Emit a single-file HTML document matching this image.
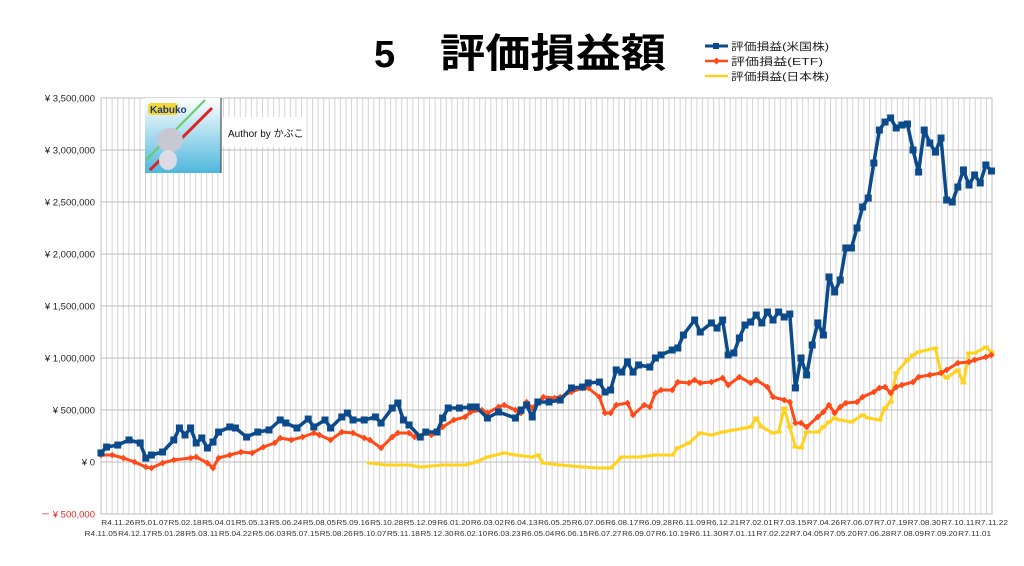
<!DOCTYPE html>
<html><head><meta charset="utf-8">
<style>
body{margin:0;background:#fff;width:1024px;height:566px;overflow:hidden;font-family:"Liberation Sans","Noto Sans CJK JP",sans-serif;}
#wrap{position:relative;width:1024px;height:566px;}
svg{position:absolute;left:0;top:0;}
</style></head>
<body><div id="wrap">
<svg id="chart" width="1024" height="566">
<g>
<text x="374" y="67" font-size="38" font-weight="bold" fill="#000" font-family="Liberation Sans, sans-serif">5</text>
<text x="440" y="67" font-size="40" font-weight="bold" fill="#000" textLength="226" lengthAdjust="spacingAndGlyphs" font-family="Liberation Sans, Noto Sans CJK JP, sans-serif">評価損益額</text>
</g>
<g id="legend">
<g><line x1="705" y1="46" x2="728" y2="46" stroke="#0b4a8b" stroke-width="3"/><rect x="713" y="43" width="6" height="6" fill="#0b4a8b"/><text x="731" y="50" font-size="10.5" fill="#222" textLength="98" lengthAdjust="spacingAndGlyphs">評価損益(米国株)</text></g>
<g><line x1="705" y1="61" x2="728" y2="61" stroke="#ff4a1a" stroke-width="2.5"/><path d="M716.5 57.5L720 61L716.5 64.5L713 61Z" fill="#ff4a1a"/><text x="731" y="65" font-size="10.5" fill="#222" textLength="92" lengthAdjust="spacingAndGlyphs">評価損益(ETF)</text></g>
<g><line x1="705" y1="76" x2="728" y2="76" stroke="#ffd21f" stroke-width="2.5"/><text x="731" y="80" font-size="10.5" fill="#222" textLength="98" lengthAdjust="spacingAndGlyphs">評価損益(日本株)</text></g>
</g>
<g id="grid"></g>
<g id="yaxis"></g>
<g id="xaxis"></g>
<g id="series"></g>
<g>
<defs><linearGradient id="lg" x1="0" y1="0" x2="0" y2="1"><stop offset="0" stop-color="#ffffff"/><stop offset="1" stop-color="#4fb7dd"/></linearGradient></defs>
<rect x="145" y="98" width="76" height="75" fill="url(#lg)"/>
<rect x="148" y="103" width="30" height="12" rx="3" fill="#f7d63a"/>
<text x="150" y="113" font-size="10" font-weight="bold" fill="#1a3d7a">Kabuko</text>
<path d="M150 170L212 108" stroke="#d22" stroke-width="3"/>
<path d="M146 160L205 100" stroke="#6c6" stroke-width="2"/>
<ellipse cx="170" cy="140" rx="13" ry="12" fill="#c8c8d4"/>
<ellipse cx="168" cy="160" rx="9" ry="10" fill="#dcdce6"/>
<line x1="221" y1="98" x2="221" y2="173" stroke="#333" stroke-width="1"/>
</g>
<g>
<rect x="222" y="117" width="80" height="30" fill="#fff"/>
<text x="228" y="137" font-size="10" fill="#111">Author by かぶこ</text>
</g>
</svg>
</div>
<script>
// ---- data ----
const numWeeks = 160;
const yTicks = [-500000,0,500000,1000000,1500000,2000000,2500000,3000000,3500000];
const xLabelsUpper = ["R4.11.26","R5.01.07","R5.02.18","R5.04.01","R5.05.13","R5.06.24","R5.08.05","R5.09.16","R5.10.28","R5.12.09","R6.01.20","R6.03.02","R6.04.13","R6.05.25","R6.07.06","R6.08.17","R6.09.28","R6.11.09","R6.12.21","R7.02.01","R7.03.15","R7.04.26","R7.06.07","R7.07.19","R7.08.30","R7.10.11","R7.11.22"];
const xLabelsLower = ["R4.11.05","R4.12.17","R5.01.28","R5.03.11","R5.04.22","R5.06.03","R5.07.15","R5.08.26","R5.10.07","R5.11.18","R5.12.30","R6.02.10","R6.03.23","R6.05.04","R6.06.15","R6.07.27","R6.09.07","R6.10.19","R6.11.30","R7.01.11","R7.02.22","R7.04.05","R7.05.20","R7.06.28","R7.08.09","R7.09.20","R7.11.01"];
// values in thousand yen, indexed by week number
const usWeeks = [0,1,3,5,7,8,9,11,13,14,15,16,17,18,19,20,21,23,24,26,28,30,32,33,35,37,38,40,41,43,44,45,47,49,50,52,53,54,55,57,58,60,61,62,64,66,67,69,71,74,75,76,77,78,80,82,84,86,87,89,90,91,92,93,94,95,96,98,99,100,102,103,104,106,107,109,110,111,112,113,114,115,116,117,118,119,120,121,122,123,124,125,126,127,128,129,130,131,132,133,134,135,136,137,138,139,140,141,142,143,144,145,146,147,148,149,150,151,152,153,154,155,156,157,158,159];
const usValues = [87,144,163,212,183,38,67,96,212,327,260,327,183,231,135,192,288,337,327,240,288,308,404,375,327,413,337,404,327,433,471,404,404,433,375,519,567,404,356,240,288,288,423,519,519,529,529,423,481,423,500,548,433,577,577,596,712,721,760,769,673,692,885,865,962,865,933,913,1000,1029,1077,1096,1221,1365,1250,1337,1288,1365,1029,1048,1192,1317,1346,1413,1337,1442,1365,1442,1394,1423,712,1000,837,1125,1337,1221,1779,1635,1750,2058,2058,2250,2452,2538,2875,3192,3269,3308,3212,3240,3250,3000,2788,3192,3067,2980,3115,2519,2500,2644,2808,2663,2760,2683,2856,2798];
const etfWeeks = [0,2,4,6,8,9,11,13,16,17,19,20,21,23,25,27,29,31,32,34,36,38,39,41,43,45,47,48,50,52,53,55,56,58,59,61,63,65,66,68,69,71,72,74,75,76,77,79,81,82,84,86,87,89,90,91,92,94,95,97,98,99,100,102,103,105,106,107,109,111,112,114,116,117,119,120,122,123,124,125,126,128,129,130,131,132,133,135,136,138,139,140,141,142,143,145,146,148,150,151,153,155,156,158,159];
const etfValues = [67,67,38,0,-48,-58,-10,19,38,48,-10,-58,38,67,96,87,144,183,231,212,240,279,260,212,288,279,231,212,135,240,279,279,240,279,260,337,404,433,481,500,471,529,548,500,471,577,519,625,615,625,673,712,712,625,471,471,548,567,452,548,529,663,692,692,769,760,788,760,769,808,740,817,760,788,721,625,596,577,375,375,337,433,481,548,471,529,567,577,625,673,712,721,663,721,740,769,817,837,856,885,952,962,981,1010,1029];
const jpWeeks = [48,51,55,57,61,65,67,69,72,74,77,78,79,82,86,89,91,93,96,99,102,103,105,107,109,111,113,115,116,117,118,120,121,122,123,124,125,126,128,129,130,131,132,134,136,137,139,140,141,142,144,145,146,149,150,151,153,154,155,156,158,159];
const jpValues = [-10,-29,-29,-48,-29,-29,0,48,87,67,48,67,-10,-29,-48,-58,-58,48,48,67,67,135,183,279,260,288,308,327,337,423,337,279,288,519,337,144,135,288,288,337,385,423,404,385,452,423,404,519,577,856,981,1029,1058,1096,856,808,885,760,1048,1048,1106,1058];

// ---- axes ----
const NS="http://www.w3.org/2000/svg";
const X0=101, X1=992, YTOP=98, YBOT=514;
const vMin=-500000, vMax=3500000;
function xScale(w){return X0 + w*(X1-X0)/(numWeeks-0.9);}
function yScale(v){return YBOT - (v-vMin)/(vMax-vMin)*(YBOT-YTOP);}
function mk(tag,attrs,parent){const e=document.createElementNS(NS,tag);for(const k in attrs)e.setAttribute(k,attrs[k]);parent.appendChild(e);return e;}

const grid=document.getElementById('grid');
for(let w=0;w<=numWeeks;w++){
  const x=X0+w*(X1-X0)/numWeeks;
  const l=mk('line',{x1:x,x2:x,y1:YTOP,y2:YBOT,stroke:'#d4d4d4','stroke-width':1},grid);
  
  
}
const yaxis=document.getElementById('yaxis');
yTicks.forEach(v=>{
  const y=yScale(v);
  const l=mk('line',{x1:X0,x2:X1,y1:y,y2:y,stroke:'#bdbdbd','stroke-width':1},grid);
  
  
  const neg=v<0;
  const s=(neg?'－ ':'')+'¥ '+Math.abs(v).toLocaleString('en-US');
  const t=mk('text',{x:95,y:y+3.5,'font-size':9.5,'text-anchor':'end',fill:neg?'#e8261c':'#222'},yaxis);
  t.textContent=s;
  
  
});
const border=mk('rect',{x:X0,y:YTOP,width:X1-X0,height:YBOT-YTOP,fill:'none',stroke:'#bdbdbd'},grid);



const xaxis=document.getElementById('xaxis');
xLabelsUpper.forEach((s,i)=>{
  const t=mk('text',{x:xScale(3+i*6),y:525,'font-size':7.2,'text-anchor':'middle',fill:'#333',textLength:33,lengthAdjust:'spacingAndGlyphs'},xaxis);
  t.textContent=s;
  
  
});
xLabelsLower.forEach((s,i)=>{
  const t=mk('text',{x:xScale(i*6),y:536,'font-size':7.2,'text-anchor':'middle',fill:'#333',textLength:33,lengthAdjust:'spacingAndGlyphs'},xaxis);
  t.textContent=s;
  
  
});

// ---- series ----
const series=document.getElementById('series');
function drawSeries(weeks,vals,color,width,marker,name){
  const g=mk('g',{},series);
  
  
  const pts=weeks.map((w,i)=>xScale(w).toFixed(1)+','+yScale(vals[i]*1000).toFixed(1)).join(' ');
  const pl=mk('polyline',{points:pts,fill:'none',stroke:color,'stroke-width':width,'stroke-linejoin':'round'},g);
  
  
  weeks.forEach((w,i)=>{
    const x=xScale(w), y=yScale(vals[i]*1000);
    let m;
    if(marker==='square') m=mk('rect',{x:x-3.5,y:y-3.5,width:7,height:7,fill:color},g);
    else if(marker==='diamond') m=mk('path',{d:`M${x} ${y-3.3}L${x+3.3} ${y}L${x} ${y+3.3}L${x-3.3} ${y}Z`,fill:color},g);
    else m=mk('rect',{x:x-3,y:y-1.5,width:6,height:3,fill:color},g);
    
    
  });
}
drawSeries(jpWeeks,jpValues,'#ffd21f',3,'dash','series-jp-stocks');
drawSeries(etfWeeks,etfValues,'#ff4a1a',3,'diamond','series-etf');
drawSeries(usWeeks,usValues,'#0b4a8b',3.5,'square','series-us-stocks');
</script>
</body></html>
